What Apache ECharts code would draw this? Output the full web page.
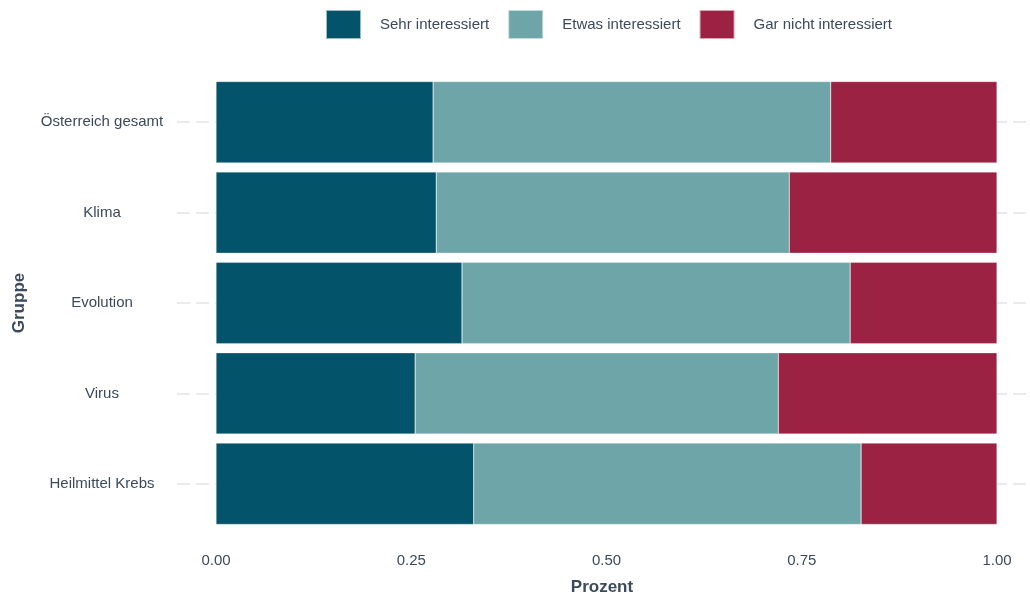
<!DOCTYPE html>
<html><head><meta charset="utf-8">
<script src="https://cdn.jsdelivr.net/npm/echarts@6/dist/echarts.min.js"></script>
<style>html,body{margin:0;padding:0;background:#fff}#c{width:1030px;height:594px}</style>
</head><body><div id="c"></div>
<script>
const categories = ["Österreich gesamt", "Klima", "Evolution", "Virus", "Heilmittel Krebs"];
const sehr = [0.278, 0.282, 0.315, 0.255, 0.330];
const etwas = [0.509, 0.452, 0.497, 0.465, 0.496];
const garNicht = [0.213, 0.266, 0.188, 0.280, 0.174];
const xTicks = [0, 0.25, 0.5, 0.75, 1];
const seriesNames = ["Sehr interessiert", "Etwas interessiert", "Gar nicht interessiert"];
const colors = ["#03536a", "#6ea5a8", "#9c2243"];
const textColor = "#3b4a5c";
const font = "Liberation Sans";

const chart = echarts.init(document.getElementById('c'));
const values = [sehr, etwas, garNicht];
const series = values.map((v, i) => ({
  name: seriesNames[i], type: 'bar', stack: 'a', data: v, z: 2,
  barCategoryGap: '10%',
  itemStyle: { color: colors[i], borderColor: 'rgba(255,255,255,0.6)', borderWidth: 0.5 }
}));
series.push({
  name: 'grid', type: 'bar', stack: 'a', data: [], z: 1, silent: true,
  markLine: {
    z: 1, silent: true, symbol: 'none', label: { show: false },
    lineStyle: { color: '#e3e3e3', type: [13, 6], width: 1.5 },
    data: categories.map(c => ({ yAxis: c }))
  }
});
chart.setOption({
  animation: false,
  color: colors,
  legend: {
    data: seriesNames, left: 320, top: 4, itemWidth: 35, itemHeight: 29, itemGap: 18,
    icon: 'rect',
    textStyle: { color: textColor, fontSize: 15, fontFamily: font, padding: [0, 0, 0, 14] }
  },
  grid: { left: 177, right: 3, top: 77, bottom: 65, containLabel: false, outerBoundsMode: 'none' },
  xAxis: {
    type: 'value', min: -39 / 781, max: 1 + 30 / 781,
    name: 'Prozent', nameLocation: 'middle', nameGap: 50,
    nameTextStyle: { color: textColor, fontSize: 17, fontWeight: 'bold', fontFamily: font },
    axisLine: { show: false }, axisTick: { show: false }, splitLine: { show: false },
    axisLabel: { customValues: xTicks, color: textColor, fontSize: 15, fontFamily: font, margin: 24,
      formatter: v => v.toFixed(2) }
  },
  yAxis: {
    type: 'category', data: categories, inverse: true,
    name: 'Gruppe', nameLocation: 'middle', nameGap: 149, nameRotate: 90,
    nameTextStyle: { color: textColor, fontSize: 17, fontWeight: 'bold', fontFamily: font },
    axisLine: { show: false }, axisTick: { show: false }, splitLine: { show: false },
    axisLabel: { color: textColor, fontSize: 15, fontFamily: font, align: 'center', margin: 75 }
  },
  series: series
});
</script></body></html>
